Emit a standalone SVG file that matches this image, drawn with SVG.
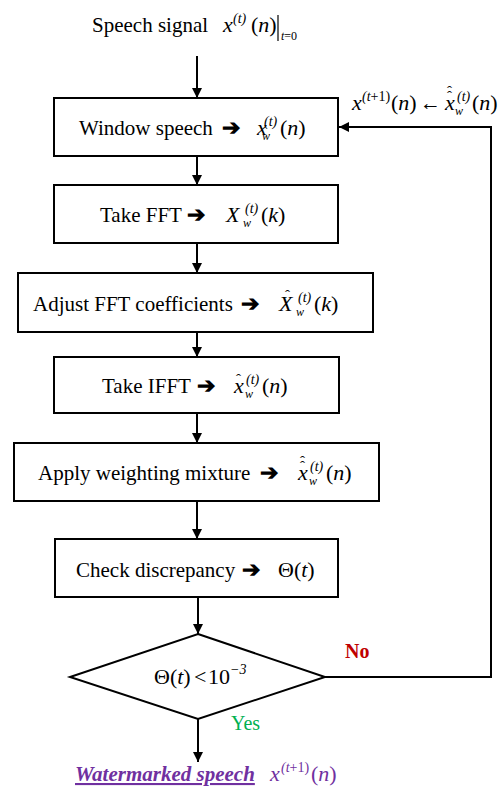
<svg xmlns="http://www.w3.org/2000/svg" width="500" height="791" viewBox="0 0 500 791" font-family="'Liberation Serif', 'Times New Roman', serif">
<defs>
<marker id="ah" markerUnits="userSpaceOnUse" markerWidth="10" markerHeight="12" refX="10" refY="5" orient="auto">
<path d="M0,0 L10,5 L0,10 Z" fill="#000"/>
</marker>
<style>
.box{fill:#fff;stroke:#000;stroke-width:2}
.ln{fill:none;stroke:#000;stroke-width:2}
.t{font-size:21px;fill:#000}
.m{font-size:22px;font-style:italic;fill:#000}
.r{font-style:normal}
.sup{font-size:14px;font-style:italic;fill:#000}
.sub{font-size:12px;font-style:italic;fill:#000}
.hat{font-size:15px;fill:#000}
.ar{font-size:22px;font-weight:bold;fill:#000}
</style>
</defs>
<rect width="500" height="791" fill="#fff"/>

<g id="start">
<text class="t" x="92" y="32">Speech signal</text>
<text class="m" x="223" y="32">x</text>
<text class="sup" x="233" y="23">(t)</text>
<text class="m" x="251" y="32"><tspan class="r">(</tspan>n<tspan class="r">)</tspan></text>
<line x1="278" y1="15" x2="278" y2="41" stroke="#000" stroke-width="1.2"/>
<text class="sub" x="281" y="40">t<tspan font-style="normal">=0</tspan></text>
</g>

<g id="connectors">
<line class="ln" x1="197" y1="56" x2="197" y2="98" marker-end="url(#ah)"/>
<line class="ln" x1="197" y1="156" x2="197" y2="185" marker-end="url(#ah)"/>
<line class="ln" x1="197" y1="243" x2="197" y2="273" marker-end="url(#ah)"/>
<line class="ln" x1="197" y1="332" x2="197" y2="357" marker-end="url(#ah)"/>
<line class="ln" x1="197" y1="413" x2="197" y2="443" marker-end="url(#ah)"/>
<line class="ln" x1="197" y1="501" x2="197" y2="539" marker-end="url(#ah)"/>
<line class="ln" x1="198" y1="597" x2="198" y2="634" marker-end="url(#ah)"/>
<line class="ln" x1="198" y1="719" x2="198" y2="762" marker-end="url(#ah)"/>
<polyline class="ln" points="325,677 491,677 491,127 339,127" marker-end="url(#ah)"/>
</g>

<g id="feedback-label">
<text class="m" x="352" y="110">x</text>
<text class="sup" x="362" y="101">(t<tspan font-style="normal">+1)</tspan></text>
<text class="m" x="391" y="110"><tspan class="r">(</tspan>n<tspan class="r">)</tspan></text>
<text class="t" x="420" y="110">←</text>
<text class="m" x="445" y="110">x</text>
<text class="hat" x="447" y="101">ˆ</text>
<text class="hat" x="447" y="96">ˆ</text>
<text class="sup" x="457" y="101">(t)</text>
<text class="sub" x="455" y="115">w</text>
<text class="m" x="472" y="110"><tspan class="r">(</tspan>n<tspan class="r">)</tspan></text>
</g>

<g id="window">
<rect class="box" x="54" y="98" width="284" height="58"/>
<text class="t" x="79" y="135">Window speech</text>
<text class="ar" x="222" y="135">➔</text>
<text class="m" x="257" y="135">x</text>
<text class="sup" x="264" y="126">(t)</text>
<text class="sub" x="262" y="140">w</text>
<text class="m" x="280" y="135"><tspan class="r">(</tspan>n<tspan class="r">)</tspan></text>
</g>

<g id="fft">
<rect class="box" x="54" y="185" width="284" height="58"/>
<text class="t" x="100" y="222">Take FFT</text>
<text class="ar" x="187" y="222">➔</text>
<text class="m" x="226" y="222">X</text>
<text class="sup" x="245" y="213">(t)</text>
<text class="sub" x="243" y="227">w</text>
<text class="m" x="261" y="222"><tspan class="r">(</tspan>k<tspan class="r">)</tspan></text>
</g>

<g id="adjust">
<rect class="box" x="18" y="273" width="355" height="59"/>
<text class="t" x="33" y="311">Adjust FFT coefficients</text>
<text class="ar" x="241" y="311">➔</text>
<text class="m" x="279" y="311">X</text>
<text class="hat" x="285" y="300">ˆ</text>
<text class="sup" x="298" y="302">(t)</text>
<text class="sub" x="296" y="316">w</text>
<text class="m" x="314" y="311"><tspan class="r">(</tspan>k<tspan class="r">)</tspan></text>
</g>

<g id="ifft">
<rect class="box" x="54" y="357" width="285" height="56"/>
<text class="t" x="102" y="393">Take IFFT</text>
<text class="ar" x="197" y="393">➔</text>
<text class="m" x="234" y="393">x</text>
<text class="hat" x="236" y="384">ˆ</text>
<text class="sup" x="246" y="384">(t)</text>
<text class="sub" x="245" y="398">w</text>
<text class="m" x="262" y="393"><tspan class="r">(</tspan>n<tspan class="r">)</tspan></text>
</g>

<g id="weighting">
<rect class="box" x="14" y="443" width="365" height="58"/>
<text class="t" x="38" y="480">Apply weighting mixture</text>
<text class="ar" x="260" y="480">➔</text>
<text class="m" x="298" y="480">x</text>
<text class="hat" x="300" y="471">ˆ</text>
<text class="hat" x="300" y="466">ˆ</text>
<text class="sup" x="310" y="471">(t)</text>
<text class="sub" x="309" y="485">w</text>
<text class="m" x="326" y="480"><tspan class="r">(</tspan>n<tspan class="r">)</tspan></text>
</g>

<g id="check">
<rect class="box" x="55" y="539" width="283" height="58"/>
<text class="t" x="76" y="577">Check discrepancy</text>
<text class="ar" x="242" y="577">➔</text>
<text class="m" x="278" y="577"><tspan class="r">Θ(</tspan>t<tspan class="r">)</tspan></text>
</g>

<g id="decision">
<polygon points="198,634 325,677 198,719 70,677" fill="#fff" stroke="#000" stroke-width="2"/>
<text class="m" x="154" y="684"><tspan class="r">Θ(</tspan>t<tspan class="r">)</tspan></text>
<text class="m r" x="194" y="684">&lt;</text>
<text class="m r" x="208" y="684">10</text>
<text class="sup r" x="230" y="674">−3</text>
</g>

<text x="345" y="658" font-size="20" font-weight="bold" fill="#C00000">No</text>
<text x="231" y="730" font-size="20" fill="#00B050">Yes</text>

<g id="output">
<text x="75" y="781" font-size="21" font-weight="bold" font-style="italic" fill="#7030A0" text-decoration="underline">Watermarked speech</text>
<text x="270" y="781" font-size="22" font-style="italic" fill="#7030A0">x</text>
<text x="281" y="772" font-size="14" font-style="italic" fill="#7030A0">(t<tspan font-style="normal">+1)</tspan></text>
<text x="311" y="781" font-size="22" font-style="italic" fill="#7030A0"><tspan font-style="normal">(</tspan>n<tspan font-style="normal">)</tspan></text>
</g>
</svg>
